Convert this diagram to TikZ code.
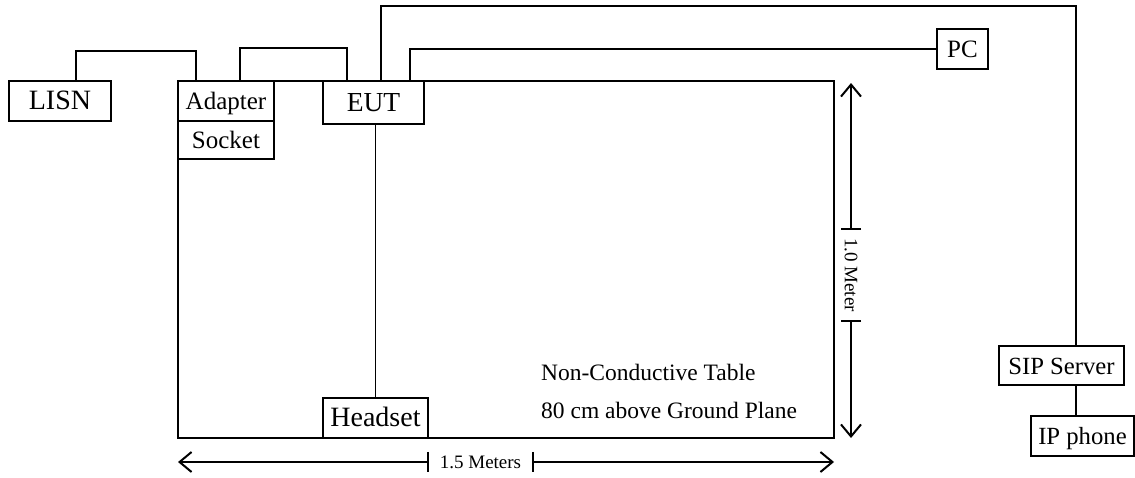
\documentclass[tikz,border=0pt]{standalone}
\usepackage{fontspec}
\setmainfont{Liberation Serif}
\usetikzlibrary{arrows.meta,calc}
\begin{document}
\begin{tikzpicture}[x=1pt,y=-1pt,
  box/.style={draw,line width=2pt,fill=white,inner sep=0pt,text height=18pt,text depth=1pt},
  fs/.style={font=\fontsize{#1}{#1}\selectfont},
  wire/.style={line width=1.2pt},
  dim/.style={line width=2pt,-{Straight Barb[length=12pt,width=20pt]}},
  tick/.style={line width=2pt},
  dimlab/.style={inner sep=0pt,minimum height=20pt,fs=19},
  note/.style={anchor=base west,inner sep=0pt,fs=23.5}]
\useasboundingbox (0,0) rectangle (1135,477);
% table
\node[draw,line width=2pt,inner sep=0pt,minimum width=656pt,minimum height=357pt] (table) at (506,259.5) {};
% boxes
\node[box,fs=28,minimum width=102pt,minimum height=40pt] (LISN) at (60,101) {LISN};
\node[box,fs=25,minimum width=96pt,minimum height=40pt] (Adapter) at (226,101) {Adapter};
\node[box,fs=25,minimum width=96pt,minimum height=38pt] (Socket) at (226,140) {Socket};
\node[box,fs=27.5,minimum width=101pt,minimum height=43pt] (EUT) at (373.5,102.5) {EUT};
\node[box,fs=25,minimum width=51pt,minimum height=40pt] (PC) at (962.5,49) {PC};
\node[box,fs=24.7,minimum width=125pt,minimum height=39pt] (SIP) at (1061.5,365.5) {SIP Server};
\node[box,fs=24.7,minimum width=103pt,minimum height=40pt] (IP) at (1082.5,436) {IP phone};
\node[box,fs=28,minimum width=105pt,minimum height=40pt] (Headset) at (375.5,418) {Headset};
% wires
\draw[wire] ([xshift=16pt]LISN.north) -- ++(0,-29) -| ([xshift=-30pt]Adapter.north);
\draw[wire] ([xshift=14pt]Adapter.north) -- ++(0,-32) -| ([xshift=-26.5pt]EUT.north);
\draw[wire] ([xshift=7.5pt]EUT.north) -- ++(0,-74) -| ([xshift=14.5pt]SIP.north);
\draw[wire] ([xshift=36.5pt]EUT.north) |- (PC.west);
\draw[wire] ([xshift=14.5pt]SIP.south) -- ([xshift=-6.5pt]IP.north);
\draw[wire] (EUT.south -| Headset.north) -- (Headset.north);
% notes
\node[note] (note1) at (541,380) {Non-Conductive Table};
\node[note] (note2) at (541,418) {80 cm above Ground Plane};
% vertical dimension
\coordinate (vt) at (851,83);
\coordinate (vb) at (851,438);
\node[dimlab,minimum width=92pt,rotate=-90] (vlab) at (851,275) {1.0 Meter};
\draw[dim] (vlab.west) -- (vt);
\draw[dim] (vlab.east) -- (vb);
\draw[tick] (vlab.north west) -- (vlab.south west);
\draw[tick] (vlab.north east) -- (vlab.south east);
% horizontal dimension
\coordinate (hl) at (178,462);
\coordinate (hr) at (834,462);
\node[dimlab,minimum width=105pt] (hlab) at (480.5,462) {1.5 Meters};
\draw[dim] (hlab.west) -- (hl);
\draw[dim] (hlab.east) -- (hr);
\draw[tick] (hlab.north west) -- (hlab.south west);
\draw[tick] (hlab.north east) -- (hlab.south east);
\end{tikzpicture}
\end{document}
